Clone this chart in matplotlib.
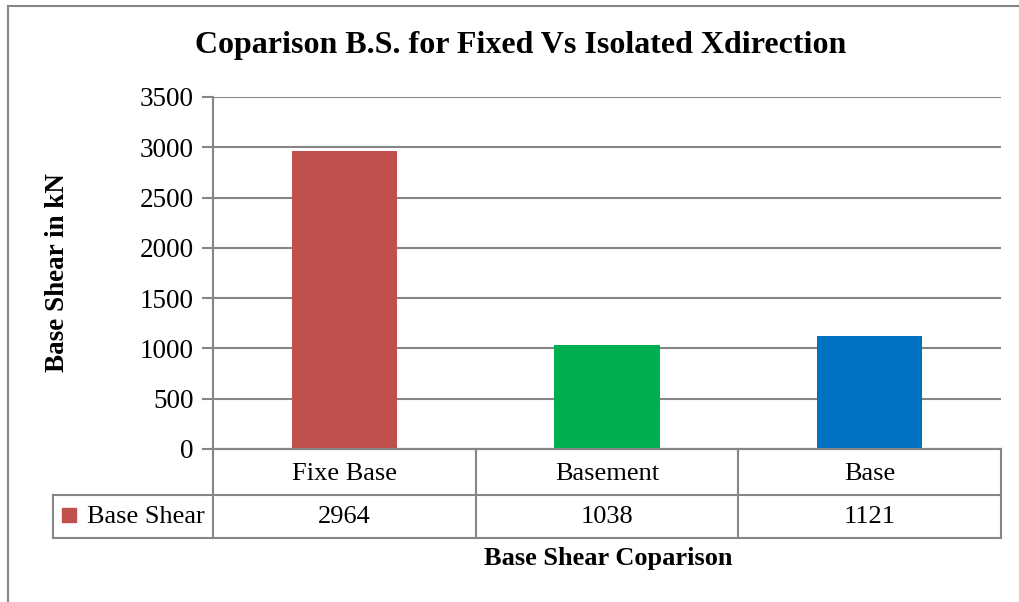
import matplotlib
matplotlib.use("Agg")
import matplotlib.pyplot as plt
from matplotlib.lines import Line2D
from matplotlib.patches import Rectangle
from matplotlib.transforms import blended_transform_factory

categories = ["Fixe Base", "Basement", "Base"]
values = [2964, 1038, 1121]
colors = ["#C0504D", "#00B050", "#0070C0"]
series_name = "Base Shear"
yticks = [0, 500, 1000, 1500, 2000, 2500, 3000, 3500]
title = "Coparison B.S. for Fixed Vs Isolated Xdirection"
ylabel = "Base Shear in kN"
xlabel = "Base Shear Coparison"

W, H = 1019, 602
plt.rcParams['font.family'] = ['Liberation Serif', 'DejaVu Serif']
fig = plt.figure(figsize=(W / 100, H / 100), dpi=100)

def fx(x):
    return x / W

def fy(y):
    return 1 - y / H

L, R, T, B = 213, 1001, 97, 449
ax = fig.add_axes([fx(L), fy(B), fx(R) - fx(L), fy(T) - fy(B)])
grid_c = "#868686"
n = len(categories)
xs = [i + 0.5 for i in range(n)]
ax.bar(xs, values, width=0.4, color=colors, zorder=3)
ax.set_xlim(0, n)
ax.set_ylim(0, 3500)
ax.set_yticks(yticks)
ax.set_yticklabels([str(v) for v in yticks], fontsize=19.5)
ax.tick_params(axis='y', length=8, width=1.5, color=grid_c, pad=6)
ax.set_xticks([])
ax.grid(axis='y', color=grid_c, linewidth=1.5, zorder=0)
for s in ['top', 'right']:
    ax.spines[s].set_visible(False)
ax.spines['left'].set_color(grid_c)
ax.spines['left'].set_linewidth(1.5)
ax.spines['bottom'].set_color(grid_c)
ax.spines['bottom'].set_linewidth(1.5)

# data table
row1_b, row2_b = 495, 538
tab_l = 53
lc = dict(color=grid_c, linewidth=1.5, transform=fig.transFigure)
fig.add_artist(Line2D([fx(L), fx(R)], [fy(B), fy(B)], **lc))
fig.add_artist(Line2D([fx(tab_l), fx(R)], [fy(row1_b), fy(row1_b)], **lc))
fig.add_artist(Line2D([fx(tab_l), fx(R)], [fy(row2_b), fy(row2_b)], **lc))
bt = blended_transform_factory(ax.transData, fig.transFigure)
for i in range(n + 1):
    fig.add_artist(Line2D([i, i], [fy(B), fy(row2_b)], color=grid_c, linewidth=1.5, transform=bt))
fig.add_artist(Line2D([fx(tab_l), fx(tab_l)], [fy(row1_b), fy(row2_b)], **lc))

for i, (c, v) in enumerate(zip(categories, values)):
    fig.text(xs[i], fy(474), c, transform=bt, ha='center', va='center', fontsize=19)
    fig.text(xs[i], fy(517), str(v), transform=bt, ha='center', va='center', fontsize=19)

fig.add_artist(Rectangle((fx(62), fy(522)), fx(14), fy(508) - fy(522), color=colors[0], transform=fig.transFigure))
fig.text(fx(87), fy(517), series_name, ha='left', va='center', fontsize=19)

fig.text(fx(521), fy(46), title, ha='center', va='center', fontsize=23, fontweight='bold')
fig.text(fx(58), fy(272), ylabel, ha='center', va='center', fontsize=19.5, fontweight='bold', rotation=90)
fig.text(fx(608), fy(559), xlabel, ha='center', va='center', fontsize=19, fontweight='bold')

fig.add_artist(Line2D([fx(8), fx(8)], [fy(6), 0], color=grid_c, linewidth=1.5, transform=fig.transFigure))
fig.add_artist(Line2D([fx(8), 1], [fy(6), fy(6)], color=grid_c, linewidth=1.5, transform=fig.transFigure))

fig.savefig("out.png", dpi=100)
